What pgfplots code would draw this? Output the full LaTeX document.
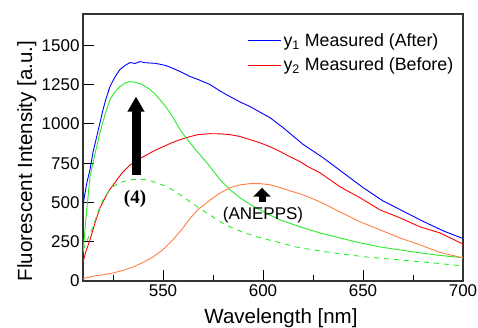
\documentclass[border=0pt]{standalone}
\usepackage{pgfplots}
\pgfplotsset{compat=1.18}
\usepackage{fontspec}
\setmainfont{Liberation Sans}
\newfontfamily\serifbold{Liberation Serif}
\usetikzlibrary{arrows.meta}
\definecolor{cblue}{RGB}{0,0,255}
\definecolor{cred}{RGB}{255,0,0}
\definecolor{cgreen}{RGB}{40,235,40}
\definecolor{corange}{RGB}{255,128,64}
\begin{document}
\begin{tikzpicture}
\begin{axis}[
  scale only axis,
  width=380pt, height=267pt,
  xmin=510, xmax=700, ymin=0, ymax=1700,
  xtick={550,600,650,700},
  minor xtick={525,575,625,675},
  ytick={0,250,500,750,1000,1250,1500},
  tick align=inside,
  xtick pos=bottom, ytick pos=left,
  major tick length=11pt, minor tick length=6pt,
  every tick/.style={black, line width=1pt},
  axis line style={black!80, line width=1.2pt},
  /pgf/number format/assume math mode=true,
  /pgf/number format/1000 sep={},
  tick label style={font=\fontsize{17}{17}\selectfont},
  xlabel={Wavelength [nm]},
  ylabel={Fluorescent Intensity [a.u.]},
  label style={font=\fontsize{20.5}{20.5}\selectfont},
  xlabel style={at={(axis description cs:0.521,0)}, anchor=base, yshift=-42.5pt},
  ylabel style={at={(axis description cs:-0.134,0.449)}, anchor=base, rotate=0},
  legend style={at={(axis description cs:0.432,0.935)}, anchor=north west, draw=none, fill=none,
    font=\fontsize{17.8}{17.8}\selectfont, row sep=6pt, inner sep=0pt,
    /tikz/every even column/.append style={column sep=0pt}},
  legend cell align=left,
  legend image code/.code={\draw[#1, line width=1.2pt] (0,0) -- (33pt,0);},
]
\addplot[cblue, line width=0.9pt] coordinates {
(510,480) (511,560) (512,630) (513.5,709) (515,820) (516.5,900) (518.5,1008) (520,1090)
(521.5,1160) (523.5,1238) (526,1300) (528.5,1347) (531,1372) (533.5,1391) (536,1385)
(538.5,1397) (541,1390) (543.5,1388) (546,1386) (548.5,1380) (551,1373) (553.5,1362)
(556,1348) (558.5,1334) (563.5,1302) (567.5,1283) (573.5,1251) (578.5,1210) (583.5,1174)
(588.5,1140) (593.5,1111) (598.5,1075) (603.5,1040) (610,977) (620,870) (630,785)
(640,690) (650,595) (660,510) (670,445) (680,380) (690,320) (700,270)};
\addlegendentry{y\textsubscript{1} Measured (After)}
\addplot[cred, line width=0.9pt] coordinates {
(510,120) (511.5,190) (513.5,262) (516,370) (518.5,465) (521,530) (523,575) (525,610)
(527,645) (530,695) (533.5,738) (537,770) (542,804) (546,832) (550,855) (554,878)
(558.5,900) (563.5,919) (567.5,932) (573.5,938) (578.5,937) (583.5,932) (588.5,920)
(593.5,900) (598.5,880) (603.5,855) (608.5,825) (613.5,791) (618.5,760) (622.5,728)
(628.5,689) (638.5,600) (648.5,530) (658.5,453) (668.5,402) (678.5,345) (688.5,306) (700,235)};
\addlegendentry{y\textsubscript{2} Measured (Before)}
\addplot[cgreen, line width=0.9pt, forget plot] coordinates {
(510,180) (511.5,400) (513.5,664) (516,810) (518.5,945) (521,1060) (523.5,1155) (526,1205)
(528.5,1238) (531,1260) (533.5,1270) (536,1265) (538.5,1257) (541,1240) (543.5,1219)
(546,1190) (548.5,1155) (551,1115) (553.5,1072) (556,1020) (558.5,964) (561,920)
(563.5,881) (566,840) (568.5,804) (573.5,728) (578.5,645) (583.5,581) (588.5,530)
(593.5,488) (598.5,453) (603.5,420) (608.5,389) (618.5,345) (628.5,306) (638.5,274)
(648.5,243) (658.5,217) (668.5,198) (678.5,179) (688.5,163) (700,148)};
\addplot[cgreen, line width=0.9pt, dash pattern=on 5pt off 5pt, forget plot] coordinates {
(510,198) (512.5,270) (515,345) (517.5,440) (520,517) (522.5,565) (525,600) (528,625)
(533.5,645) (538,648) (542,645) (547,625) (552,600) (555,578) (558.5,549) (563.5,505)
(567,475) (573.5,420) (578.5,378) (583.5,345) (590,310) (597,281) (605,255) (618.5,211)
(635,179) (651.5,153) (668.5,134) (685,115) (700,96)};
\addplot[corange, line width=0.9pt, forget plot] coordinates {
(510,15) (515,30) (520,40) (525,51) (530,68) (535,89) (540,118) (545,153) (550,200)
(555,262) (560,338) (563.5,398) (567.5,455) (573.5,515) (578.5,560) (583.5,594)
(588.5,612) (593.5,620) (598.5,620) (603.5,613) (608.5,595) (613.5,574) (618.5,555)
(622.5,536) (628.5,504) (638.5,440) (648.5,377) (658.5,326) (668.5,274) (678.5,230)
(688.5,182) (700,147)};
\draw[black, line width=9pt, -{Triangle[width=16pt,length=15pt]}] (axis cs:536.5,677) -- (axis cs:536.5,1174);
\draw[black, line width=7pt, -{Triangle[width=17pt,length=9pt]}] (axis cs:599.5,504) -- (axis cs:599.5,594);
\node[font=\serifbold\bfseries\fontsize{19}{19}\selectfont] at (axis cs:536,523) {(4)};
\node[font=\fontsize{17}{17}\selectfont] at (axis cs:600,421) {(ANEPPS)};
\end{axis}
\pgfresetboundingbox
\path[use as bounding box] ([shift={(-83pt,-46pt)}]current axis.south west) rectangle ([shift={(15pt,14pt)}]current axis.north east);
\end{tikzpicture}
\end{document}
